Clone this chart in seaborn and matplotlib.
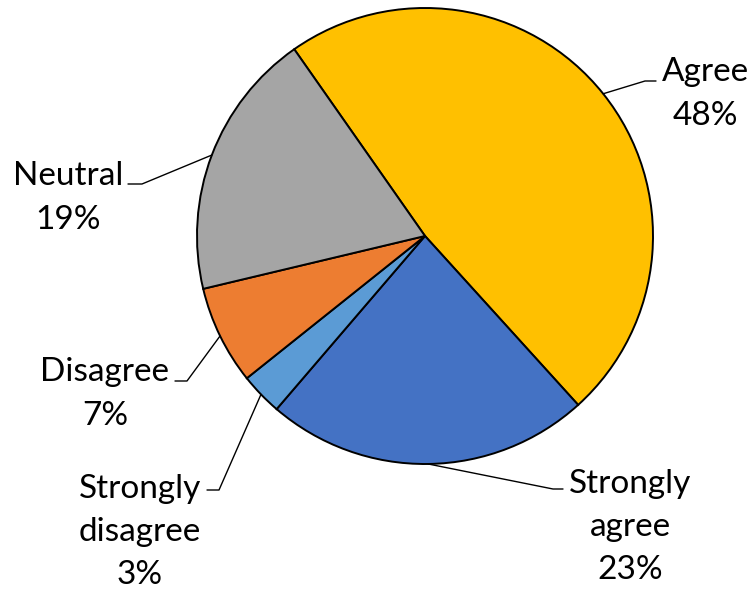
import numpy as np
import seaborn as sns
import matplotlib.pyplot as plt

# survey answers, clockwise from the top-left
categories = ["Agree", "Strongly agree", "Strongly disagree", "Disagree", "Neutral"]
shares = [48, 23, 3, 7, 19]
label_text = ["Agree\n48%", "Strongly\nagree\n23%", "Strongly\ndisagree\n3%",
              "Disagree\n7%", "Neutral\n19%"]

colors = ["#FFC000", "#4472C4", "#5B9BD5", "#ED7D31", "#A5A5A5"]

# layout in pixel space (origin top-left): label centre, elbow, end of leader
label_pos = [(705, 94), (630, 527), (140, 532), (105, 394), (68, 198)]
elbow_pos = [(645, 81), (553, 489), (219, 490), (187, 381), (142, 184)]
end_pos = [(656, 81), (563, 489), (207, 490), (175, 381), (128, 184)]

W, H = 753, 590
CX, CY, R = 425, 236, 228
START = 125

sns.set_theme(style="white")
plt.rcParams["font.family"] = ["Lato", "DejaVu Sans"]

fig = plt.figure(figsize=(W / 100, H / 100), dpi=100)
ax = fig.add_axes([0, 0, 1, 1])

wedges, _ = ax.pie(shares, colors=colors, startangle=START, counterclock=False,
                   center=(CX, H - CY), radius=R,
                   wedgeprops=dict(edgecolor="black", linewidth=1.4))
ax.set_xlim(0, W)
ax.set_ylim(0, H)
ax.set_aspect("equal")
ax.axis("off")

for w, txt, lp, ep, xp in zip(wedges, label_text, label_pos, elbow_pos, end_pos):
    mid = np.deg2rad((w.theta1 + w.theta2) / 2)
    px = CX + R * np.cos(mid)
    py = (H - CY) + R * np.sin(mid)
    ax.plot([px, ep[0], xp[0]], [py, H - ep[1], H - xp[1]], color="black", lw=1)
    ax.text(lp[0], H - lp[1], txt, ha="center", va="center", fontsize=24,
            linespacing=1.55, color="black")

fig.savefig("out.png", dpi=100)
